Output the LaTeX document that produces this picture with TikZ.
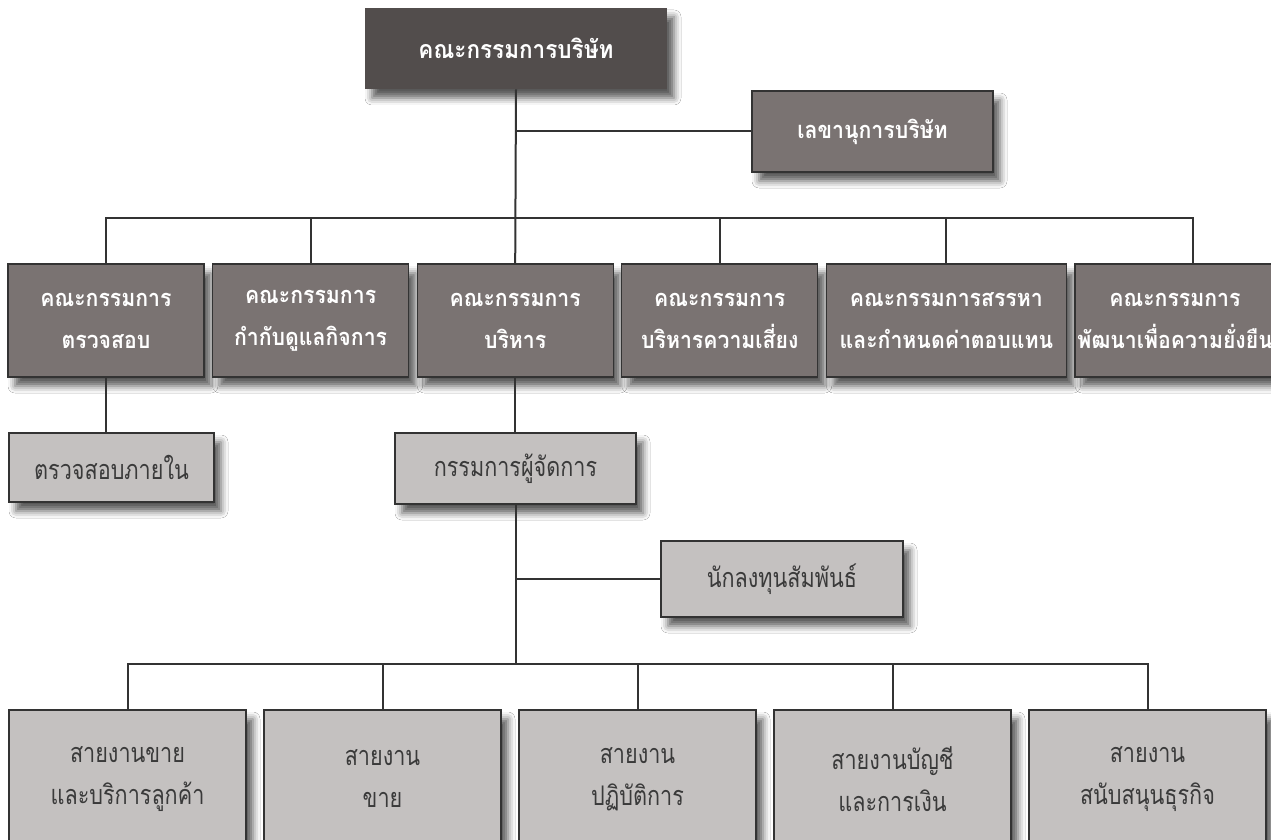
\documentclass[tikz,border=0pt]{standalone}
\usepackage{fontspec}
\newfontfamily\thaibold[Script=Thai,FakeStretch=0.9]{Loma}
\newfontfamily\thainarrow[Script=Thai,FakeStretch=0.8]{Loma}
\usetikzlibrary{positioning,shadows.blur}
\definecolor{boardgray}{HTML}{524D4C}
\definecolor{comgray}{HTML}{7A7372}
\definecolor{unitgray}{HTML}{C4C1C0}
\definecolor{linegray}{HTML}{333333}
\definecolor{textgray}{HTML}{3A3A3A}

\begin{document}
\begin{tikzpicture}
  [
   x=0.5pt,y=-0.5pt,
   node distance=3.7pt and 3.7pt,
   shd/.style={blur shadow={shadow xshift=3.5pt,shadow yshift=-4.5pt,shadow blur radius=3.5pt,shadow opacity=65}},
   boardbox/.style={shd,fill=boardgray,text=white,inner sep=0pt,font=\thaibold\bfseries\fontsize{12.5}{21}\selectfont},
   combox/.style={shd,draw=linegray,line width=0.6pt,fill=comgray,text=white,align=center,inner sep=0pt,minimum width=98pt,minimum height=56.5pt,font=\thaibold\bfseries\fontsize{11.8}{21}\selectfont},
   unitbox/.style={shd,draw=linegray,line width=0.6pt,fill=unitgray,text=textgray,align=center,inner sep=0pt,font=\thainarrow\fontsize{13.5}{21}\selectfont},
   ln/.style={draw=linegray,line width=1pt}
  ]
   \path[use as bounding box,clip] (0,0) rectangle (1271,840);
   \fill[white] (0,0) rectangle (1271,840);

   % board and secretary
   \node[boardbox,minimum width=151pt,minimum height=40.5pt] (board) at (516,48.5) {คณะกรรมการบริษัท};
   \node[combox,minimum width=120.5pt,minimum height=40.5pt] (sec) at (872.5,131.5) {เลขานุการบริษัท};

   % committees
   \node[combox] (audit) at (106,320.5) {คณะกรรมการ\\ตรวจสอบ};
   \node[combox] (gov) [right=of audit] {คณะกรรมการ\\กำกับดูแลกิจการ};
   \node[combox] (exec) [right=of gov] {คณะกรรมการ\\บริหาร};
   \node[combox] (risk) [right=of exec] {คณะกรรมการ\\บริหารความเสี่ยง};
   \node[combox,minimum width=120pt] (nomi) [right=of risk] {คณะกรรมการสรรหา\\และกำหนดค่าตอบแทน};
   \node[combox,minimum width=100pt] (sust) [right=of nomi] {คณะกรรมการ\\พัฒนาเพื่อความยั่งยืน};

   % management
   \node[unitbox,minimum width=102.5pt,minimum height=34.5pt] (ia) at (111.5,467.5) {ตรวจสอบภายใน};
   \node[unitbox,minimum width=120.5pt,minimum height=35.5pt] (md) at (515.5,468.5) {กรรมการผู้จัดการ};
   \node[unitbox,minimum width=121pt,minimum height=38pt] (ir) at (782,579) {นักลงทุนสัมพันธ์};

   % business lines
   \node[unitbox,minimum width=118.5pt,minimum height=69pt] (cs) at (127.5,779) {สายงานขาย\\และบริการลูกค้า};
   \node[unitbox,minimum width=118.5pt,minimum height=69pt] (sale) [right=8.4pt of cs] {สายงาน\\ขาย};
   \node[unitbox,minimum width=118.5pt,minimum height=69pt] (ops) [right=8.4pt of sale] {สายงาน\\ปฏิบัติการ};
   \node[unitbox,minimum width=118.5pt,minimum height=69pt] (fin) [right=8.4pt of ops] {สายงานบัญชี\\และการเงิน};
   \node[unitbox,minimum width=118.5pt,minimum height=69pt] (sup) [right=8.4pt of fin] {สายงาน\\สนับสนุนธุรกิจ};

   \coordinate (bus) at (516,218);
   \coordinate (lowbus) at (516,664);
   \coordinate (sustdrop) at (1193,264);

   \draw[ln] (board.south) -- (exec.north);
   \draw[ln] (board.south |- sec.west) -- (sec.west);
   \draw[ln] (audit.north) -- (audit.north |- bus) -- (sustdrop |- bus) -- (sustdrop);
   \draw[ln] (gov.north) -- (gov.north |- bus);
   \draw[ln] (risk.north) -- (risk.north |- bus);
   \draw[ln] (nomi.north) -- (nomi.north |- bus);
   \draw[ln] (audit.south) -- (audit.south |- ia.north);
   \draw[ln] (exec.south) -- (exec.south |- md.north);
   \draw[ln] (md.south) -- (md.south |- lowbus);
   \draw[ln] (md.south |- ir.west) -- (ir.west);
   \draw[ln] (cs.north) -- (cs.north |- lowbus) -- (sup.north |- lowbus) -- (sup.north);
   \draw[ln] (sale.north) -- (sale.north |- lowbus);
   \draw[ln] (ops.north) -- (ops.north |- lowbus);
   \draw[ln] (fin.north) -- (fin.north |- lowbus);

\end{tikzpicture}
\end{document}
